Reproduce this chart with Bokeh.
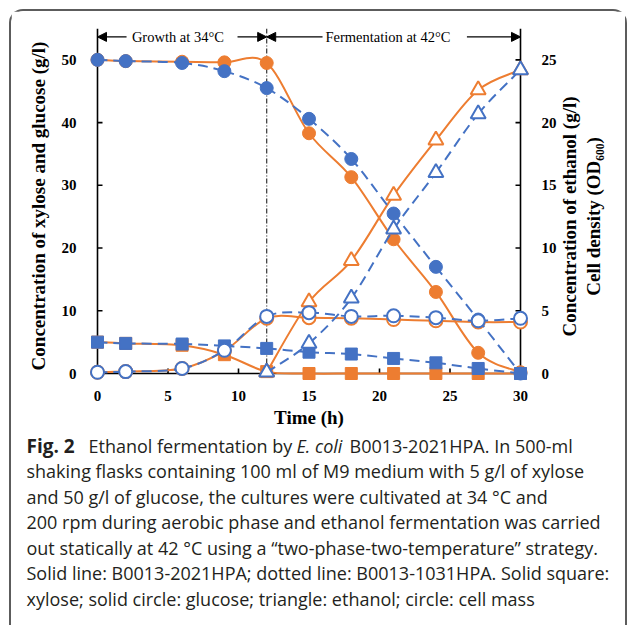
import math
from bokeh.plotting import figure
from bokeh.layouts import column, row
from bokeh.models import LinearAxis, Range1d, FixedTicker, Label, Arrow, NormalHead
from bokeh.embed import file_html
from bokeh.resources import INLINE

# ---------------- data ----------------
time = [0, 2, 6, 9, 12, 15, 18, 21, 24, 27, 30]
time_ethanol = [12, 15, 18, 21, 24, 27, 30]

xylose_2021 = [5.0, 4.8, 4.5, 3.0, 0.3, 0, 0, 0, 0, 0, 0]
xylose_1031 = [5.0, 4.8, 4.7, 4.4, 4.0, 3.4, 3.1, 2.4, 1.7, 0.8, 0.0]
glucose_2021 = [50.0, 49.8, 49.7, 49.6, 49.5, 38.3, 31.3, 21.4, 13.0, 3.3, 0.2]
glucose_1031 = [50.0, 49.8, 49.5, 48.2, 45.5, 40.6, 34.2, 25.5, 17.0, 8.6, 0.0]
ethanol_2021 = [0.1, 5.7, 9.0, 14.2, 18.6, 22.6, 24.2]
ethanol_1031 = [0.1, 2.4, 6.0, 11.5, 16.0, 20.7, 24.2]
od_2021 = [0.1, 0.15, 0.4, 1.8, 4.4, 4.45, 4.4, 4.3, 4.2, 4.1, 4.1]
od_1031 = [0.1, 0.15, 0.4, 1.85, 4.55, 4.85, 4.55, 4.6, 4.45, 4.2, 4.4]

x_ticks = [0, 5, 10, 15, 20, 25, 30]
left_ticks = [0, 10, 20, 30, 40, 50]
right_ticks = [0, 5, 10, 15, 20, 25]
phase_switch = 12
time_max = 30
left_max = 55
right_max = 27.5

growth_text = "Growth at 34°C"
ferment_text = "Fermentation at 42°C"
left_label = "Concentration of xylose and glucose (g/l)"
right_label_1 = "Concentration of ethanol (g/l)"
right_label_2 = "Cell density (OD₆₀₀)"
x_label = "Time (h)"

caption_rows = [
    [("Fig. 2", "bold"), ("Ethanol fermentation by", "normal"),
     ("E. coli", "italic"), ("B0013-2021HPA. In 500-ml", "normal")],
    [("shaking flasks containing 100 ml of M9 medium with 5 g/l of xylose", "normal")],
    [("and 50 g/l of glucose, the cultures were cultivated at 34 °C and", "normal")],
    [("200 rpm during aerobic phase and ethanol fermentation was carried", "normal")],
    [("out statically at 42 °C using a “two-phase-two-temperature” strategy.", "normal")],
    [("Solid line: B0013-2021HPA; dotted line: B0013-1031HPA. Solid square:", "normal")],
    [("xylose; solid circle: glucose; triangle: ethanol; circle: cell mass", "normal")],
]

# ---------------- style / layout ----------------
ORANGE = "#ED7D31"
BLUE = "#4472C4"
SERIF = "Liberation Serif"
SANS = "Open Sans"
DASH = "10 6"
AXIS_W = 1.6
TICK_LEN = 5

PX_X = 423 / 30      # px per hour
PX_Y = 345 / 55      # px per left unit
pad_x = 10 / PX_X
pad_y = 10 / PX_Y

CHART_W, CHART_H = 549, 422
RLAB_W = 65
CAP_H = 192

p = figure(width=CHART_W, height=CHART_H,
           x_range=Range1d(-pad_x, time_max + pad_x),
           y_range=Range1d(-pad_y, left_max),
           output_backend="svg", toolbar_location=None,
           x_axis_location=None, y_axis_location=None,
           min_border_left=76, min_border_right=30,
           min_border_top=17, min_border_bottom=50)
p.extra_y_ranges = {"right": Range1d(-pad_y / 2, right_max)}
for g in p.grid:
    g.visible = False
p.outline_line_color = None
p.background_fill_color = "white"
p.border_fill_color = "white"


def style_axis(ax):
    ax.axis_line_color = None
    ax.major_tick_line_color = None
    ax.minor_tick_line_color = None
    ax.major_label_text_font = SERIF
    ax.major_label_text_font_style = "bold"
    ax.major_label_text_font_size = "15px"
    ax.major_label_text_color = "black"
    ax.axis_label_text_font = SERIF
    ax.axis_label_text_font_style = "bold"
    ax.axis_label_text_font_size = "19px"
    ax.axis_label_text_color = "black"


xaxis = LinearAxis(ticker=FixedTicker(ticks=x_ticks), axis_label=x_label)
style_axis(xaxis)
xaxis.major_label_standoff = 1
xaxis.axis_label_standoff = 3
p.add_layout(xaxis, "below")

yaxis = LinearAxis(ticker=FixedTicker(ticks=left_ticks), axis_label=left_label)
style_axis(yaxis)
yaxis.major_label_standoff = 5
yaxis.axis_label_standoff = 10
p.add_layout(yaxis, "left")

raxis = LinearAxis(y_range_name="right", ticker=FixedTicker(ticks=right_ticks))
style_axis(raxis)
raxis.major_label_standoff = 5
p.add_layout(raxis, "right")

# axis lines and inside ticks drawn at the data origin / ends
p.segment(x0=[0, time_max, 0], y0=[0, 0, 0], x1=[0, time_max, time_max],
          y1=[left_max, left_max, 0], line_color="black", line_width=AXIS_W)
p.segment(x0=[0] * len(left_ticks), y0=left_ticks,
          x1=[TICK_LEN / PX_X] * len(left_ticks), y1=left_ticks,
          line_color="black", line_width=AXIS_W)
p.segment(x0=[time_max] * len(right_ticks), y0=right_ticks,
          x1=[time_max - TICK_LEN / PX_X] * len(right_ticks), y1=right_ticks,
          line_color="black", line_width=AXIS_W, y_range_name="right")
p.segment(x0=x_ticks, y0=[0] * len(x_ticks), x1=x_ticks,
          y1=[TICK_LEN / PX_Y] * len(x_ticks), line_color="black", line_width=AXIS_W)

# phase separator
p.segment(x0=[phase_switch], y0=[0], x1=[phase_switch], y1=[left_max],
          line_color="#333333", line_width=1.2, line_dash="5 2 1 2")


def smooth(xs, ys):
    n = len(xs)
    out = dict(x0=[], y0=[], x1=[], y1=[], cx0=[], cy0=[], cx1=[], cy1=[])
    for i in range(n - 1):
        a = i - 1 if i > 0 else i
        b = i + 2 if i + 2 < n else i + 1
        out["x0"].append(xs[i]); out["y0"].append(ys[i])
        out["x1"].append(xs[i + 1]); out["y1"].append(ys[i + 1])
        out["cx0"].append(xs[i] + (xs[i + 1] - xs[a]) / 6)
        out["cy0"].append(ys[i] + (ys[i + 1] - ys[a]) / 6)
        out["cx1"].append(xs[i + 1] - (xs[b] - xs[i]) / 6)
        out["cy1"].append(ys[i + 1] - (ys[b] - ys[i]) / 6)
    return out


def series(xs, ys, color, dash, marker, filled, size, rng="default"):
    seg = smooth(xs, ys)
    kw = {} if rng == "default" else {"y_range_name": rng}
    p.bezier(line_color=color, line_width=2, line_dash=dash, **seg, **kw)
    p.scatter(xs, ys, marker=marker, size=size,
              fill_color=color if filled else "white",
              line_color=color, line_width=1 if filled else 2, **kw)


for col, dash in ((ORANGE, "solid"), (BLUE, DASH)):
    xy = xylose_2021 if col == ORANGE else xylose_1031
    gl = glucose_2021 if col == ORANGE else glucose_1031
    et = ethanol_2021 if col == ORANGE else ethanol_1031
    od = od_2021 if col == ORANGE else od_1031
    series(time, xy, col, dash, "square", True, 12)
    series(time, gl, col, dash, "circle", True, 13)
    series(time_ethanol, et, col, dash, "triangle", False, 15, "right")
    series(time, od, col, dash, "circle", False, 13, "right")

# phase arrows
ay = 53.66
head = dict(size=9, fill_color="black", line_color="black")
for xs_, xe_ in ((2.06, 0), (9.93, phase_switch), (15.96, phase_switch), (26.2, time_max)):
    p.add_layout(Arrow(end=NormalHead(**head), x_start=xs_, y_start=ay, x_end=xe_, y_end=ay,
                       line_color="black", line_width=1.2))
p.add_layout(Label(x=5.7, y=ay, text=growth_text, text_font=SERIF, text_font_size="14.5px",
                   text_align="center", text_baseline="middle", text_color="black"))
p.add_layout(Label(x=20.6, y=ay, text=ferment_text, text_font=SERIF, text_font_size="14.5px",
                   text_align="center", text_baseline="middle", text_color="black"))


def blank_fig(w, h):
    f = figure(width=w, height=h, x_range=Range1d(0, 1), y_range=Range1d(0, 1),
               output_backend="svg", toolbar_location=None,
               x_axis_location=None, y_axis_location=None,
               min_border=0)
    for g in f.grid:
        g.visible = False
    f.outline_line_color = None
    f.background_fill_color = "white"
    f.border_fill_color = "white"
    return f


# right axis title (two lines, reading bottom to top)
rfig = blank_fig(RLAB_W, CHART_H)
for sx, txt in ((9, right_label_1), (33, right_label_2)):
    rfig.add_layout(Label(x=sx, y=167, x_units="screen", y_units="screen", text=txt,
                          angle=math.pi / 2, text_font=SERIF, text_font_style="bold",
                          text_font_size="19px", text_align="center", text_baseline="middle",
                          text_color="black"))

# caption
cfig = blank_fig(CHART_W + RLAB_W, CAP_H)
cap_x = [[15, 77, 285, 338], [15], [15], [15], [15], [15], [15]]
cap_y = [180, 154.5, 129, 103.5, 78, 52.5, 27]
for segs, xs_, sy in zip(caption_rows, cap_x, cap_y):
    for (txt, st), sx in zip(segs, xs_):
        cfig.add_layout(Label(x=sx, y=sy, x_units="screen", y_units="screen", text=txt,
                              text_font=SANS, text_font_style=st,
                              text_font_size="19px" if st == "bold" else "18px",
                              text_align="left", text_baseline="alphabetic",
                              text_color="#231f20"))

layout = column(row(p, rfig, spacing=0), cfig, spacing=0)
layout.styles = {
    "margin": "9px 0 0 9px",
    "border-top": "2px solid #5c5c5c",
    "border-left": "2px solid #5c5c5c",
    "border-right": "2px solid #5c5c5c",
    "border-top-left-radius": "14px",
    "border-top-right-radius": "14px",
}

open("out.html", "w").write(file_html(layout, INLINE))
